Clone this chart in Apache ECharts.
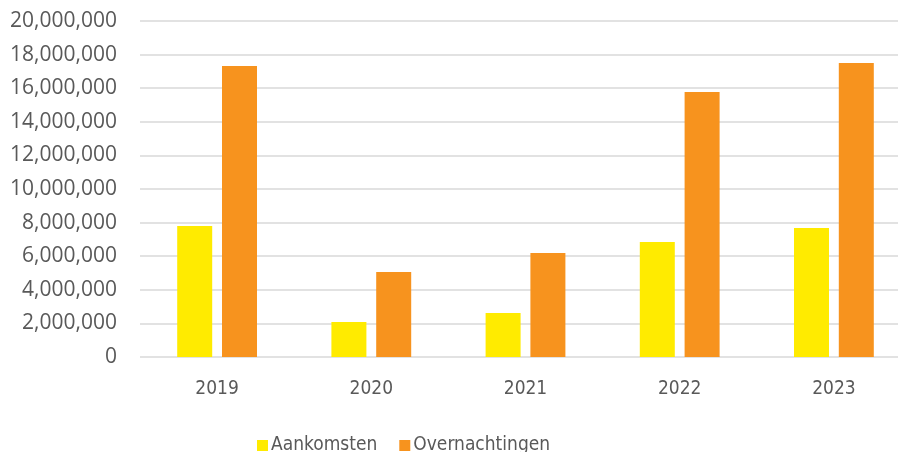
<!DOCTYPE html>
<html>
<head>
<meta charset="utf-8">
<script src="https://cdn.jsdelivr.net/npm/echarts@6/dist/echarts.min.js"></script>
<style>
  html, body { margin: 0; padding: 0; background: #fff; }
  #chart { width: 898px; height: 452px; }
</style>
</head>
<body>
<div id="chart"></div>
<script>
const years = ['2019', '2020', '2021', '2022', '2023']
const aankomsten = [7800000, 2080000, 2620000, 6850000, 7680000]
const overnachtingen = [17320000, 5060000, 6190000, 15770000, 17500000]

const chart = echarts.init(document.getElementById('chart'))
const grey = '#595959'
const narrow = '"Liberation Sans Narrow", "DejaVu Sans Condensed", sans-serif'
chart.setOption({
  animation: false,
  grid: {
    left: 140,
    width: 771,
    top: 21,
    bottom: 95,
    containLabel: false,
    outerBoundsMode: 'none'
  },
  legend: {
    left: 252,
    top: 431,
    itemWidth: 11,
    itemHeight: 11,
    itemGap: 22,
    icon: 'rect',
    textStyle: {
      color: grey,
      fontSize: 19,
      fontFamily: narrow,
      padding: [0, 0, 0, -2]
    },
    data: ['Aankomsten', 'Overnachtingen']
  },
  xAxis: {
    type: 'category',
    data: years,
    axisLine: { show: false },
    axisTick: { show: false },
    axisLabel: {
      color: grey,
      fontSize: 19,
      margin: 23,
      fontFamily: narrow
    }
  },
  yAxis: {
    type: 'value',
    min: 0,
    max: 20000000,
    interval: 2000000,
    axisLine: { show: false },
    axisTick: { show: false },
    axisLabel: {
      color: grey,
      fontSize: 21,
      margin: 23,
      fontFamily: '"Open Sans", sans-serif',
      formatter: function (v) {
        return v.toLocaleString('en-US')
      }
    },
    splitLine: {
      lineStyle: { color: '#D9D9D9', width: 1.5 }
    }
  },
  series: [
    {
      name: 'Aankomsten',
      type: 'bar',
      data: aankomsten,
      barWidth: 35,
      barGap: '28%',
      itemStyle: { color: '#FFEB00' }
    },
    {
      name: 'Overnachtingen',
      type: 'bar',
      data: overnachtingen,
      barWidth: 35,
      itemStyle: { color: '#F7931E' }
    }
  ]
})
</script>
</body>
</html>
